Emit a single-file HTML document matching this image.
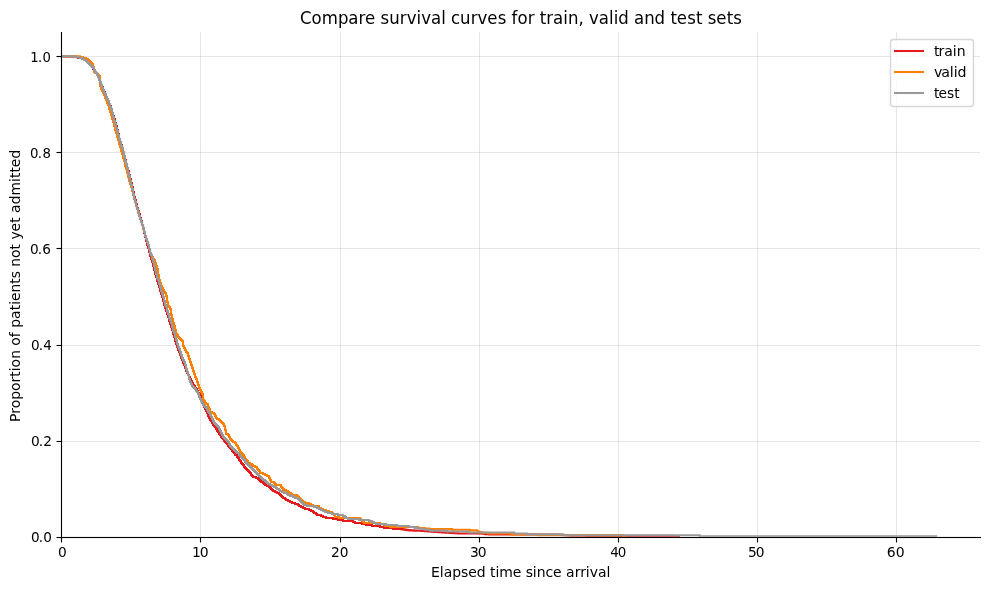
<!DOCTYPE html>
<html lang="en"><head><meta charset="utf-8"><title>Compare survival curves for train, valid and test sets</title>
<style>html,body{margin:0;padding:0;background:#fff;overflow:hidden}svg{display:block}text{font-family:"DejaVu Sans","Liberation Sans",sans-serif;fill:#000}</style></head><body>
<svg width="989" height="590" viewBox="0 0 989 590">
<rect width="989" height="590" fill="#fff"/>
<defs><clipPath id="ax"><rect x="61.28" y="32.33" width="918.72" height="504.39"/></clipPath></defs>
<!-- grid -->
<g stroke="#b0b0b0" stroke-opacity="0.3" stroke-width="1.11" fill="none">
<line x1="200.5" y1="32" x2="200.5" y2="537"/>
<line x1="340.5" y1="32" x2="340.5" y2="537"/>
<line x1="479.5" y1="32" x2="479.5" y2="537"/>
<line x1="618.5" y1="32" x2="618.5" y2="537"/>
<line x1="757.5" y1="32" x2="757.5" y2="537"/>
<line x1="896.5" y1="32" x2="896.5" y2="537"/>
<line x1="61" y1="441.5" x2="980" y2="441.5"/>
<line x1="61" y1="441.5" x2="980" y2="441.5" stroke-width="3" stroke-opacity="0.008"/>
<line x1="61" y1="345.5" x2="980" y2="345.5"/>
<line x1="61" y1="345.5" x2="980" y2="345.5" stroke-width="3" stroke-opacity="0.008"/>
<line x1="61" y1="248.5" x2="980" y2="248.5"/>
<line x1="61" y1="248.5" x2="980" y2="248.5" stroke-width="3" stroke-opacity="0.008"/>
<line x1="61" y1="152.5" x2="980" y2="152.5"/>
<line x1="61" y1="152.5" x2="980" y2="152.5" stroke-width="3" stroke-opacity="0.008"/>
<line x1="61" y1="56.5" x2="980" y2="56.5"/>
<line x1="61" y1="56.5" x2="980" y2="56.5" stroke-width="3" stroke-opacity="0.008"/>
</g>
<!-- survival curves: train, valid, test -->
<g clip-path="url(#ax)" fill="none" stroke-width="2.08" stroke-linejoin="miter" stroke-linecap="butt">
<path stroke="#e41a1c" d="M61.28 56.35H64.65V56.59H75.35V56.83H76.32V57.07H78V58H82V59H84V60H86V61H87V62H88V63H89V64H91V65H92V67H93V69H94V70H95V72H96V73H97V75H98V77H99V79H100V82H101V85H102V87H103V90H104V92H105V95H106V97H107V99H108V101H109V104H110V106H111V110H112V113H113V116H114V119H115V123H116V126H117V130H118V134H119V139H120V142H121V145H122V149H123V152H124V156H125V160H126V164H127V168H128V171H129V175H130V179H131V183H132V187H133V192H134V197H135V200H136V204H137V208H138V211H139V214H140V218H141V221H142V225H143V229H144V233H145V237H146V241H147V245H148V248H149V252H150V256H151V259H152V262H153V266H154V270H155V274H156V277H157V281H158V284H159V287H160V291H161V294H162V297H163V301H164V305H165V308H166V311H167V314H168V317H169V321H170V324H171V327H172V330H173V334H174V337H175V341H176V344H177V347H178V350H179V352H180V355H181V358H182V360H183V363H184V365H185V368H186V371H187V373H188V375H189V377H190V379H191V381H192V383H193V385H194V386H195V388H196V389H197V391H198V393H199V394H200V396H201V399H202V403H203V405H204V407H205V409H206V411H207V413H208V416H209V418H210V420H211V421H212V423H213V425H214V426H215V427H216V429H217V431H218V432H219V434H220V435H221V437H222V438H223V439H224V441H225V442H226V443H227V444H228V446H229V447H230V448H231V449H232V451H233V452H234V453H235V455H237V457H238V458H239V460H240V461H241V463H242V464H243V465H244V467H245V468H246V469H247V470H248V471H249V472H250V473H251V475H252V476H253V477H256V478H258V479H259V480H260V481H261V482H263V483H264V484H265V485H267V486H269V487H270V488H271V489H272V490H273V491H275V492H277V493H279V494H280V495H281V496H282V497H283V498H285V499H286V500H288V501H290V502H292V503H295V504H298V505H299V506H301V507H303V508H305V509H309V510H311V511H313V512H314V513H316V514H317V515H321V516H323V517H326V518H333V519H338V520H343V521H353V522H355V523H362V524H366V525H372V526H380V527H384V528H393V529H401.11V529.15H402.73V529.39H404.35V529.63H405.97V529.87H407.59V530.11H409.56V530.35H413.74V530.59H417.92V530.83H421.86V531.07H424.92V531.31H427.98V531.55H431.04V531.79H434.68V532.03H438.4V532.27H442.12V532.51H445.84V532.75H449.56V532.99H453.64V533.23H457.76V533.47H482.07V533.71H484.66V533.95H485.35V534.19H488.84V534.43H557.15V534.67H560.55V534.91H563.95V535.15H567.35V535.39H570.75V535.63H586.17V535.87H673.48V536.11H680"/>
<path stroke="#ff7f00" d="M61.28 56.35H80V57H83V58H86V59H88V60H89V61H90V62H91V63H92V64H93V67H94V72H95V73H97V74H98V75H99V76H100V86H101V89H102V91H103V93H104V95H105V98H106V100H107V103H108V105H109V109H110V112H111V115H112V119H113V122H114V126H115V130H116V133H117V137H118V140H119V144H120V147H121V151H122V154H123V158H124V161H125V166H126V169H127V173H128V177H129V181H130V184H131V187H132V191H133V194H134V199H135V202H136V206H137V209H138V212H139V216H140V219H141V222H142V225H143V229H144V232H145V236H146V239H147V242H148V245H149V249H150V253H151V255H152V257H153V259H154V260H155V263H156V266H157V269H158V275H159V280H160V283H161V286H162V288H163V290H164V292H165V293H166V296H167V302H168V306H169V307H170V309H171V315H172V319H173V323H174V326H175V330H176V334H177V335H178V337H179V338H180V339H181V340H182V341H183V346H184V348H185V350H186V352H187V353H188V356H189V359H190V362H191V365H192V368H193V371H194V374H195V377H196V379H197V382H198V385H199V388H200V390H201V392H202V394H203V400H204V401H205V403H206V404H208V407H209V409H210V412H212V413H214V414H215V416H216V418H217V419H219V420H220V421H221V422H222V423H223V424H224V426H225V430H226V434H228V435H229V437H230V439H231V440H232V441H233V442H235V443H236V445H237V446H238V448H239V450H240V452H241V453H242V454H243V455H244V457H245V459H246V460H247V461H248V463H250V464H252V465H253V466H255V467H257V469H258V470H259V471H260V473H263V474H265V475H267V476H269V478H270V480H271V482H274V483H275V484H276V485H281V487H282V488H283V489H284V490H286V491H288V492H289V493H291V494H292V495H297V496H298V497H299V498H300V499H301V500H302V501H303V502H305V503H309V504H311V505H313V506H319V508H321V509H323V510H326V511H329V512H332V513H333V514H334V515H335V517H339V518H360V519H361V520H362V521H363V522H364V523H380V524H384V525H385V526H390V527H418.04V527.95H424.61V528.55H429.41V529.15H451.92V529.75H469.75V530.35H477.15V530.95H477.75V531.55H479.41V532.15H481.81V532.75H488.49V533.35H510.59V533.95H511.59V534.55H538.3V535.15H623.08V535.75H623.16V536.35H627"/>
<path stroke="#999999" d="M61.28 56.35H75.78V57.28H80V58H82V59H84V60H86V61H87V62H88V63H89V64H90V65H91V66H92V67H93V68H94V70H95V72H96V73H97V75H98V77H99V80H100V82H101V85H102V88H103V90H104V93H105V94H106V97H107V99H108V101H109V104H110V107H111V109H112V113H113V117H114V121H115V124H116V128H117V131H118V135H119V139H120V142H121V146H122V148H123V152H124V156H125V161H126V164H127V168H128V173H129V176H130V181H131V185H132V189H133V195H134V199H135V202H136V206H137V209H138V213H139V216H140V219H141V222H142V225H143V228H144V232H145V236H146V239H147V242H148V245H149V249H150V253H151V255H152V259H153V262H154V266H155V270H156V274H157V278H158V280H159V284H160V287H161V291H162V294H163V297H164V301H165V305H166V307H167V311H168V314H169V318H170V320H171V323H172V327H173V331H174V333H175V337H176V340H177V344H178V347H179V349H180V352H181V355H182V358H183V360H184V362H185V365H186V369H187V372H188V375H189V379H190V382H191V384H192V386H193V387H194V388H195V389H196V391H197V392H198V394H199V397H200V399H201V401H202V403H203V405H204V406H205V407H206V408H207V410H208V412H209V413H210V415H211V417H212V419H213V421H214V423H215V424H216V425H217V426H218V427H219V429H220V431H221V433H222V435H223V437H224V438H225V439H226V440H227V441H228V442H229V444H230V446H231V447H232V448H233V449H234V450H235V451H236V452H237V453H239V455H240V456H241V457H242V458H243V459H244V460H245V462H246V463H247V464H248V465H249V466H250V467H251V468H252V469H253V470H254V471H255V472H256V473H257V474H258V475H259V476H260V477H261V478H262V479H263V480H265V481H266V482H267V483H268V484H270V485H272V486H274V487H276V488H277V489H279V490H280V491H282V492H284V493H287V494H288V495H290V496H293V497H295V498H298V499H299V500H300V501H301V502H302V503H303V504H304V505H307V506H314V507H317V508H319V509H321V510H323V511H325V512H328V513H332V514H338V515H343V516H345V517H346V518H348V519H359V520H369V521H372V522H374V523H376V524H386V525H397V526H409.2V526.93H414.87V527.86H419.39V528.79H424.6V529.72H430.27V530.65H447.24V531.58H468.47V532.51H514.38V533.44H527.09V534.37H562.37V535.3H699.78V536.23H937.3"/>
</g>
<!-- spines and ticks -->
<g stroke="#000" stroke-width="1.11" fill="none">
<line x1="61.5" y1="31.945" x2="61.5" y2="538.055"/>
<line x1="60.945" y1="537.5" x2="981.055" y2="537.5"/>
<line x1="60.945" y1="537.5" x2="981.055" y2="537.5" stroke-width="3" stroke-opacity="0.058"/>
<line x1="61.5" y1="537.5" x2="61.5" y2="542.5"/>
<line x1="200.5" y1="537.5" x2="200.5" y2="542.5"/>
<line x1="340.5" y1="537.5" x2="340.5" y2="542.5"/>
<line x1="479.5" y1="537.5" x2="479.5" y2="542.5"/>
<line x1="618.5" y1="537.5" x2="618.5" y2="542.5"/>
<line x1="757.5" y1="537.5" x2="757.5" y2="542.5"/>
<line x1="896.5" y1="537.5" x2="896.5" y2="542.5"/>
<line x1="56.5" y1="537.5" x2="61.5" y2="537.5"/>
<line x1="56.5" y1="441.5" x2="61.5" y2="441.5"/>
<line x1="56.5" y1="345.5" x2="61.5" y2="345.5"/>
<line x1="56.5" y1="248.5" x2="61.5" y2="248.5"/>
<line x1="56.5" y1="152.5" x2="61.5" y2="152.5"/>
<line x1="56.5" y1="56.5" x2="61.5" y2="56.5"/>
</g>
<!-- tick labels -->
<text transform="translate(0 556.62) scale(1 1.0758)" font-size="13.764px" x="58.02" y="0" xml:space="preserve">0</text>
<text transform="translate(0 556.62) scale(1 1.0596)" font-size="14.006px" x="192.03 199.79" y="0" xml:space="preserve">10</text>
<text transform="translate(0 556.62) scale(1 1.0825)" font-size="13.777px" x="331.1 339.86" y="0" xml:space="preserve">20</text>
<text transform="translate(0 556.62) scale(1 1.0650)" font-size="13.856px" x="469.99 477.83" y="0" xml:space="preserve">30</text>
<text transform="translate(0 556.62) scale(1 1.0300)" font-size="13.472px" x="610.23 617.67" y="0" xml:space="preserve">40</text>
<text transform="translate(0 556.62) scale(1 1.0746)" font-size="13.781px" x="747.95 755.64" y="0" xml:space="preserve">50</text>
<text transform="translate(0 556.62) scale(1 1.0613)" font-size="14.006px" x="886.88 895.69" y="0" xml:space="preserve">60</text>
<text transform="translate(0 541.64) scale(1 1.0383)" font-size="13.589px" x="30.95 38.68 43.17" y="0" xml:space="preserve">0.0</text>
<text transform="translate(0 445.57) scale(1 1.0442)" font-size="13.739px" x="31.02 38.75 43.3" y="0" xml:space="preserve">0.2</text>
<text transform="translate(0 349.87) scale(1 1.0325)" font-size="13.622px" x="31.02 38.75 43.3" y="0" xml:space="preserve">0.4</text>
<text transform="translate(0 253.8) scale(1 1.0300)" font-size="13.689px" x="29.88 37.7 42.3" y="0" xml:space="preserve">0.6</text>
<text transform="translate(0 157.73) scale(1 1.0383)" font-size="13.339px" x="29.98 37.7 42.5" y="0" xml:space="preserve">0.8</text>
<text transform="translate(0 61.65) scale(1 1.1200)" font-size="13.239px" x="30.15 38 42.5" y="0" xml:space="preserve">1.0</text>
<!-- axis labels and title -->
<text transform="translate(0 576.6) scale(1 0.9500)" font-size="13.989px" x="431.01 439.76 443.82 452.14 460.94 468.17 476.7 485.52 489.93 495.57 499.23 512.74 521.29 525.7 532.73 536.79 545.57 553 561.75 565.96 574.66 580.32 585.83 589.68 597.9 606.4" y="0" xml:space="preserve">Elapsed time since arrival</text>
<text transform="translate(19.85 285.85) rotate(-90) scale(1 1.0587)" font-size="13.889px" x="-136.09 -127.95 -122.53 -113.83 -105.21 -96.69 -90.97 -85.51 -81.63 -72.93 -64.32 -59.89 -51.38 -46.48 -41.85 -33.21 -24.5 -18.83 -15.17 -6.61 2 7.66 14.7 19.14 27.95 36.45 41.91 46.34 54.37 63.13 68.6 72.82 81.54 90.36 103.9 107.78 113.24 118.7 127.25" y="0" xml:space="preserve">Proportion of patients not yet admitted</text>
<text transform="translate(0 23.82) scale(1 1.0825)" font-size="16.567px" x="299.91 311.51 321.68 337.9 348.26 358.44 365.1 375.33 380.61 389.27 399.82 406.65 416.5 421.3 430.94 441.33 445.74 451.02 459.95 470.7 477.52 487.36 497.79 506.25 511.53 517.38 527.75 534.39 539.67 546.17 553.01 563.19 568 578.54 583.62 588.9 598.73 608.93 613.74 618.14 628.7 633.98 644.17 654.51 665.26 670.54 676.66 687.29 695.95 702.46 707.74 716.2 726.83 733.15" y="0" xml:space="preserve">Compare survival curves for train, valid and test sets</text>
<!-- legend -->
<rect x="890.5" y="39.5" width="83" height="67" rx="2.8" ry="2.8" fill="#fff" fill-opacity="0.8" stroke="#ccc" stroke-opacity="0.8" stroke-width="1.39"/>
<g stroke-width="2.08">
<line x1="894" y1="51" x2="924" y2="51" stroke="#e41a1c"/>
<line x1="894" y1="72" x2="924" y2="72" stroke="#ff7f00"/>
<line x1="894" y1="93" x2="924" y2="93" stroke="#999999"/>
</g>
<text transform="translate(0 55.83) scale(1 1.0283)" font-size="14.056px" x="934.05 938.4 944.23 952.85 956.82" y="0" xml:space="preserve">train</text>
<text transform="translate(0 76.77) scale(1 1.0275)" font-size="14.164px" x="933.95 941.35 949.86 953.69 957.53" y="0" xml:space="preserve">valid</text>
<text transform="translate(0 97.72) scale(1 1.0500)" font-size="13.789px" x="934.08 938.39 947.02 954.33" y="0" xml:space="preserve">test</text>
</svg></body></html>
